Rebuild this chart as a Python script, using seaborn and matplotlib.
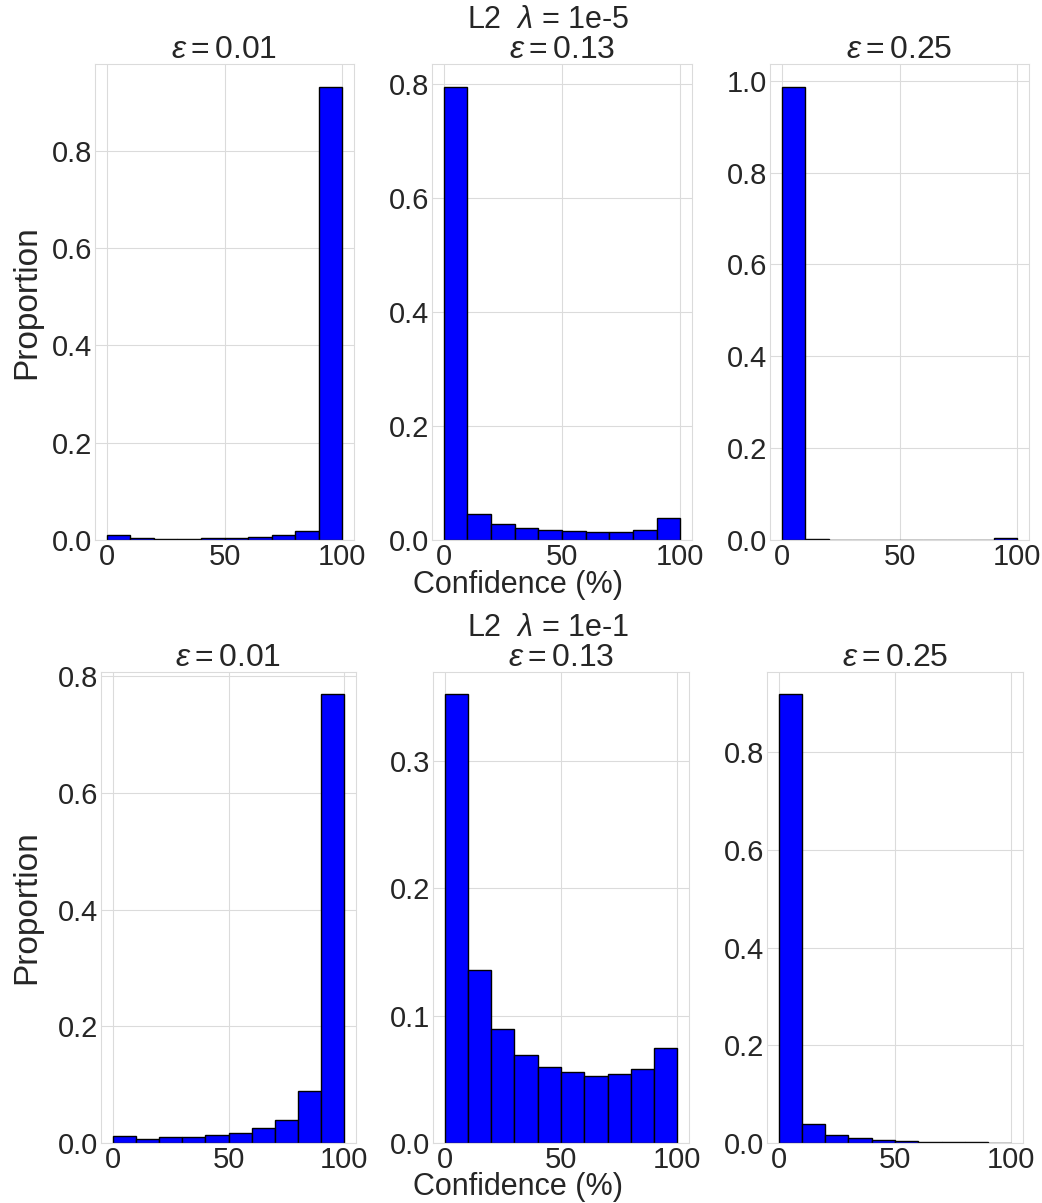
import numpy as np
import pandas as pd
import matplotlib
matplotlib.use("Agg")
import matplotlib.pyplot as plt
import seaborn as sns

# ---- data ----
bin_edges = [0, 10, 20, 30, 40, 50, 60, 70, 80, 90, 100]
epsilons = ["0.01", "0.13", "0.25"]
row_titles = ["L2  $\\lambda$ = 1e-5", "L2  $\\lambda$ = 1e-1"]

# lambda = 1e-5
p_1e5_eps001 = [0.010, 0.004, 0.002, 0.002, 0.004, 0.004, 0.007, 0.010, 0.019, 0.932]
p_1e5_eps013 = [0.796, 0.046, 0.028, 0.021, 0.0175, 0.016, 0.0135, 0.014, 0.017, 0.0385]
p_1e5_eps025 = [0.987, 0.002, 0.0005, 0.0005, 0.0005, 0.0005, 0.0005, 0.0005, 0.0005, 0.004]
# lambda = 1e-1
p_1e1_eps001 = [0.0125, 0.0074, 0.0096, 0.0108, 0.0137, 0.0176, 0.026, 0.040, 0.089, 0.769]
p_1e1_eps013 = [0.352, 0.136, 0.0894, 0.069, 0.0597, 0.0555, 0.0529, 0.054, 0.058, 0.0745]
p_1e1_eps025 = [0.918, 0.039, 0.017, 0.0095, 0.0053, 0.004, 0.0027, 0.0015, 0.0012, 0.0005]

rows = [[p_1e5_eps001, p_1e5_eps013, p_1e5_eps025],
        [p_1e1_eps001, p_1e1_eps013, p_1e1_eps025]]

x_ticks = [0, 50, 100]
y_ticks = [[[0, 0.2, 0.4, 0.6, 0.8], [0, 0.2, 0.4, 0.6, 0.8], [0, 0.2, 0.4, 0.6, 0.8, 1.0]],
           [[0, 0.2, 0.4, 0.6, 0.8], [0, 0.1, 0.2, 0.3], [0, 0.2, 0.4, 0.6, 0.8]]]

# ---- style ----
sns.set_style("whitegrid", {"grid.color": ".86", "axes.edgecolor": ".86"})
plt.rcParams["font.family"] = ["Liberation Sans Narrow", "Liberation Sans", "DejaVu Sans"]
plt.rcParams["mathtext.fontset"] = "custom"
plt.rcParams["mathtext.rm"] = "Liberation Sans"
plt.rcParams["mathtext.it"] = "Liberation Sans:italic"
plt.rcParams["mathtext.bf"] = "Liberation Sans:bold"

W, H = 1042, 1203
fig = plt.figure(figsize=(W / 100, H / 100), dpi=100)

# axes boxes in pixels: (left, top, right, bottom)
boxes = [
    [(95, 64, 354, 540), (432, 64, 692, 540), (770, 64, 1029, 540)],
    [(101, 672, 356, 1143), (433, 672, 689, 1143), (767, 672, 1023, 1143)],
]
ylabel_x = [-0.205, -0.231]
suptitle_y = [20, 628]
xlabel_y = [585, 1187]

edges = np.array(bin_edges, dtype=float)
centers = (edges[:-1] + edges[1:]) / 2

for r in range(2):
    for c in range(3):
        l, t, rr, b = boxes[r][c]
        ax = fig.add_axes([l / W, 1 - b / H, (rr - l) / W, (b - t) / H])
        df = pd.DataFrame({"conf": centers, "w": rows[r][c]})
        sns.histplot(data=df, x="conf", weights="w", bins=bin_edges, ax=ax,
                     color="#0000FF", edgecolor="black", linewidth=1.0, alpha=1.0)
        ax.set_xticks(x_ticks)
        ax.set_yticks(y_ticks[r][c])
        ax.tick_params(axis="both", labelsize=21, colors=".15", length=0, pad=2)
        ax.set_title("$\\epsilon = %s$" % epsilons[c], fontsize=23, color=".15", pad=4)
        ax.set_xlabel("")
        if c == 0:
            ax.set_ylabel("Proportion", fontsize=24, color=".15")
            ax.yaxis.set_label_coords(ylabel_x[r], 0.5)
        else:
            ax.set_ylabel("")
        for s in ax.spines.values():
            s.set_color(".86")
    fig.text(548 / W, 1 - suptitle_y[r] / H, row_titles[r], ha="center", va="center",
             fontsize=22, color=".15")
    fig.text(518 / W, 1 - xlabel_y[r] / H, "Confidence (%)", ha="center", va="center",
             fontsize=22, color=".15")

fig.savefig("out.png", dpi=100)
